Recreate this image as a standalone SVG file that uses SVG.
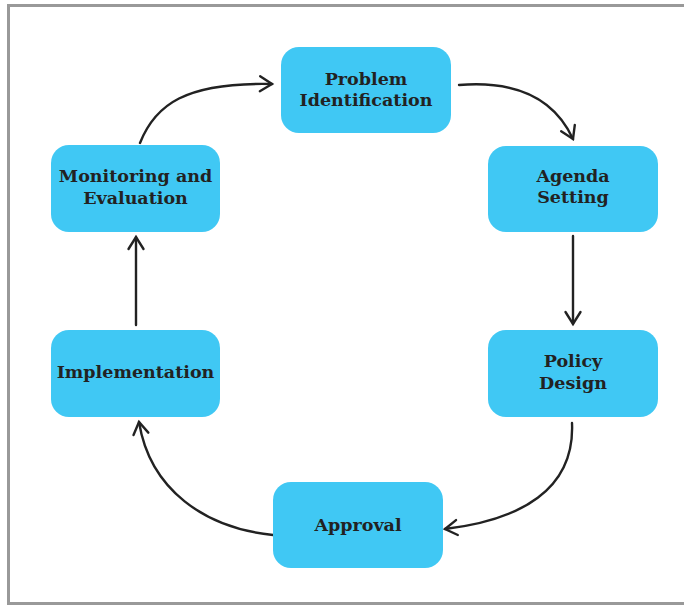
<svg xmlns="http://www.w3.org/2000/svg" width="684" height="606" viewBox="0 0 684 606">
  <style>
    .frame { fill: #ffffff; stroke: #999999; stroke-width: 3; }
    .box { fill: #40C8F4; }
    .label { font-family: "DejaVu Serif", "Liberation Serif", serif; font-weight: bold; font-size: 17.5px; fill: #222222; text-anchor: middle; }
    .edge { fill: none; stroke: #222222; stroke-width: 2.4; stroke-linecap: round; }
  </style>
  <defs>
    <marker id="arrow" markerUnits="userSpaceOnUse" markerWidth="30" markerHeight="30" viewBox="-15 -15 30 30" refX="0" refY="0" orient="auto">
      <path d="M-12,-7.5 L0,0 L-12,7.5" fill="none" stroke="#222222" stroke-width="2.4" stroke-linecap="round" stroke-linejoin="miter"/>
    </marker>
  </defs>

  <rect class="frame" x="8.5" y="5.5" width="690" height="598"/>

  <g id="connectors">
    <path class="edge" d="M140,143 C155,105 185,82 272,84" marker-end="url(#arrow)"/>
    <path class="edge" d="M459,85 Q545,78 573,139" marker-end="url(#arrow)"/>
    <path class="edge" d="M573,236 L573,324" marker-end="url(#arrow)"/>
    <path class="edge" d="M572,423 C575,490 520,520 445,529" marker-end="url(#arrow)"/>
    <path class="edge" d="M273,535 C205,528 150,490 139,422" marker-end="url(#arrow)"/>
    <path class="edge" d="M136,325 L136,237" marker-end="url(#arrow)"/>
  </g>

  <g id="problem-identification">
    <rect class="box" x="281" y="47" width="170" height="86" rx="18"/>
    <text class="label" x="366" y="85">Problem</text>
    <text class="label" x="366" y="106">Identification</text>
  </g>

  <g id="agenda-setting">
    <rect class="box" x="488" y="146" width="170" height="86" rx="18"/>
    <text class="label" x="573" y="182">Agenda</text>
    <text class="label" x="573" y="203">Setting</text>
  </g>

  <g id="policy-design">
    <rect class="box" x="488" y="330" width="170" height="87" rx="18"/>
    <text class="label" x="573" y="367">Policy</text>
    <text class="label" x="573" y="389">Design</text>
  </g>

  <g id="approval">
    <rect class="box" x="273" y="482" width="170" height="86" rx="18"/>
    <text class="label" x="358" y="531">Approval</text>
  </g>

  <g id="implementation">
    <rect class="box" x="51" y="330" width="169" height="87" rx="18"/>
    <text class="label" x="135.5" y="378">Implementation</text>
  </g>

  <g id="monitoring-and-evaluation">
    <rect class="box" x="51" y="145" width="169" height="87" rx="18"/>
    <text class="label" x="135.5" y="182">Monitoring and</text>
    <text class="label" x="135.5" y="204">Evaluation</text>
  </g>
</svg>
